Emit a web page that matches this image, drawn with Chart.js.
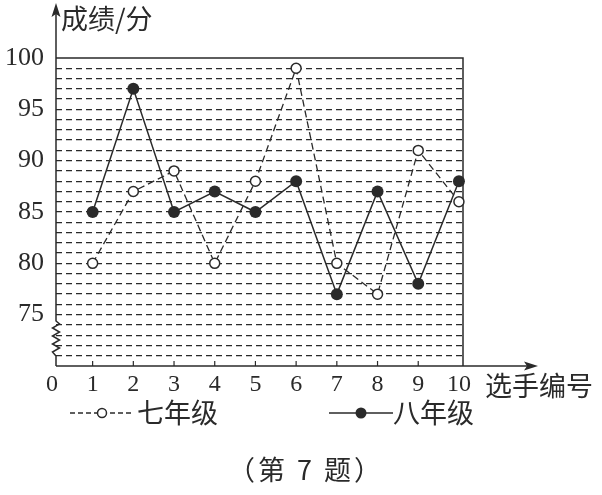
<!DOCTYPE html>
<html>
<head>
<meta charset="utf-8">
<title>成绩折线图</title>
<script src="https://cdn.jsdelivr.net/npm/chart.js"></script>
<style>
  body { margin: 0; background: #fff; }
  #wrap { position: relative; width: 602px; height: 495px; }
  #wrap canvas { position: absolute; left: 0; top: 0; }
  .txt {
    position: absolute;
    font-family: "Noto Sans CJK SC", sans-serif;
    color: #2a2a2a;
    white-space: nowrap;
    line-height: 1;
  }
  .key { position: absolute; }
</style>
</head>
<body>
<div id="wrap">
  <canvas id="chart" width="602" height="495"></canvas>
  <div class="txt" style="left:61px; top:4px; font-size:27px;">成绩/分</div>
  <div class="txt" style="left:485px; top:371px; font-size:27px;">选手编号</div>

  <svg class="key" style="left:70px; top:404px;" width="64" height="18">
    <line x1="0" y1="9" x2="64" y2="9" stroke="#2a2a2a" stroke-width="1.5" stroke-dasharray="5,3"/>
    <circle cx="32" cy="9" r="4.5" fill="#fff" stroke="#2a2a2a" stroke-width="1.5"/>
  </svg>
  <div class="txt" style="left:137px; top:398px; font-size:27px;">七年级</div>

  <svg class="key" style="left:329px; top:404px;" width="64" height="18">
    <line x1="0" y1="9" x2="64" y2="9" stroke="#2a2a2a" stroke-width="1.5"/>
    <circle cx="32" cy="9" r="5.5" fill="#2a2a2a"/>
  </svg>
  <div class="txt" style="left:393px; top:398px; font-size:27px;">八年级</div>

  <div class="txt" style="left:228px; top:455px; font-size:27px; letter-spacing:3px;">（第 7 题）</div>
</div>

<script>
  // values
  const players = [1, 2, 3, 4, 5, 6, 7, 8, 9, 10];
  const grade7 = [80, 87, 89, 80, 88, 99, 80, 77, 91, 86];
  const grade8 = [85, 97, 85, 87, 85, 88, 77, 87, 78, 88];
  const xTicks = [0, 1, 2, 3, 4, 5, 6, 7, 8, 9, 10];
  const yTickLabels = [75, 80, 85, 90, 95, 100];

  const ink = '#2a2a2a';
  const serif = 'Liberation Serif, "Times New Roman", serif';

  // axes with arrows, frame, break mark and small x ticks
  const framePlugin = {
    id: 'frame',
    beforeDatasetsDraw(chart) {
      const { ctx, chartArea: a, scales } = chart;
      const xs = scales.x;
      ctx.save();
      ctx.strokeStyle = ink;
      ctx.fillStyle = ink;
      ctx.lineWidth = 1.5;

      // top and right frame
      ctx.beginPath();
      ctx.moveTo(a.left, a.top);
      ctx.lineTo(a.right, a.top);
      ctx.lineTo(a.right, a.bottom);
      ctx.stroke();

      // x axis with arrow
      ctx.beginPath();
      ctx.moveTo(a.left, a.bottom);
      ctx.lineTo(530, a.bottom);
      ctx.stroke();
      ctx.beginPath();
      ctx.moveTo(538, a.bottom);
      ctx.lineTo(524, a.bottom - 4.5);
      ctx.lineTo(527, a.bottom);
      ctx.lineTo(524, a.bottom + 4.5);
      ctx.closePath();
      ctx.fill();

      // y axis with break mark and arrow
      ctx.beginPath();
      ctx.moveTo(a.left, a.bottom);
      ctx.lineTo(a.left, 356);
      let y = 356, side = -1;
      while (y > 324) {
        y -= 4;
        ctx.lineTo(a.left + side * 3.5, y);
        side = -side;
      }
      ctx.lineTo(a.left, y - 3);
      ctx.lineTo(a.left, 12);
      ctx.stroke();
      ctx.beginPath();
      ctx.moveTo(a.left, 3);
      ctx.lineTo(a.left - 4.5, 17);
      ctx.lineTo(a.left, 14);
      ctx.lineTo(a.left + 4.5, 17);
      ctx.closePath();
      ctx.fill();

      // short tick marks above the x axis
      ctx.lineWidth = 1.2;
      xTicks.forEach(v => {
        if (v < 1 || v > 9) return;
        const px = xs.getPixelForValue(v);
        ctx.beginPath();
        ctx.moveTo(px, a.bottom);
        ctx.lineTo(px, a.bottom - 5);
        ctx.stroke();
      });
      ctx.restore();
    }
  };

  new Chart(document.getElementById('chart'), {
    type: 'line',
    data: {
      datasets: [
        {
          label: '七年级',
          data: players.map((p, i) => ({ x: p, y: grade7[i] })),
          borderColor: ink,
          borderWidth: 1.3,
          borderDash: [7, 4],
          pointRadius: 5,
          pointBorderWidth: 1.5,
          pointBackgroundColor: '#fff',
          pointBorderColor: ink,
          tension: 0,
          clip: false
        },
        {
          label: '八年级',
          data: players.map((p, i) => ({ x: p, y: grade8[i] })),
          borderColor: ink,
          borderWidth: 1.5,
          pointRadius: 6,
          pointBorderWidth: 0,
          pointBackgroundColor: ink,
          pointBorderColor: ink,
          tension: 0,
          clip: false
        }
      ]
    },
    options: {
      responsive: false,
      devicePixelRatio: 1,
      animation: false,
      layout: { padding: { left: 0, top: 58, right: 139, bottom: 99 } },
      plugins: {
        legend: { display: false },
        tooltip: { enabled: false }
      },
      scales: {
        x: {
          type: 'linear',
          min: 0.1,
          max: 10.1,
          afterBuildTicks: s => { s.ticks = xTicks.map(v => ({ value: v })); },
          afterFit: s => { s.height = 30; },
          grid: { display: false, drawTicks: false },
          border: { display: false },
          ticks: {
            autoSkip: false,
            maxRotation: 0,
            padding: 4,
            color: ink,
            font: { family: serif, size: 24 }
          }
        },
        y: {
          min: 70,
          max: 100,
          afterFit: s => { s.width = 56; },
          grid: {
            drawTicks: false,
            lineWidth: 1.3,
            color: c => (c.tick && c.tick.value > 70 && c.tick.value < 100) ? ink : 'rgba(0,0,0,0)'
          },
          border: { display: false, dash: [6, 4] },
          ticks: {
            stepSize: 1,
            autoSkip: false,
            padding: 12,
            color: ink,
            font: { family: serif, size: 26 },
            callback: v => yTickLabels.includes(v) ? String(v) : ''
          }
        }
      }
    },
    plugins: [framePlugin]
  });
</script>
</body>
</html>
